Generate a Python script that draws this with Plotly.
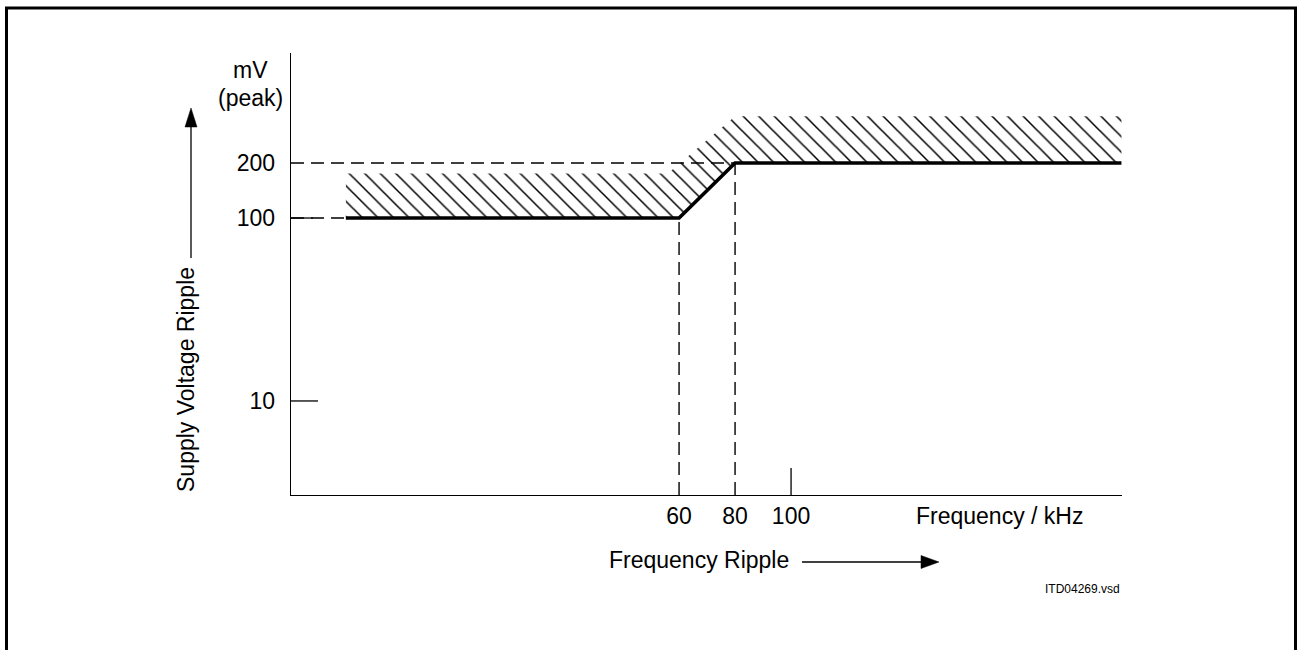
import plotly.graph_objects as go

# ---------------- data ----------------
limit_freq = [-59, 60, 80, 218]          # kHz (schematic axis positions)
limit_ripple = [100, 100, 200, 200]      # mV (peak)
band_top_freq = [-59, 56, 80, 218]       # upper edge of hatched band
band_top_ripple = [175, 175, 360, 360]
x_tick_vals = [60, 80, 100]
x_tick_text = ["60", "80", "100"]
y_tick_vals = [10, 100, 200]
y_tick_text = ["10", "100", "200"]

# ---------------- layout geometry ----------------
W, H = 1297, 650
ML, MR, MT, MB = 291, 175, 53, 155
PW, PH = W - ML - MR, H - MT - MB
x_range = [-78.6, 218.2]
y_range_log = [0.486, 2.902]
px_per_x = PW / (x_range[1] - x_range[0])
px_per_dec = PH / (y_range_log[1] - y_range_log[0])
y_min = 10 ** y_range_log[0]

FONT = "Liberation Sans, Arial, Helvetica, sans-serif"


def paper(px, py):
    return (px - ML) / PW, 1 - (py - MT) / PH


fig = go.Figure()

# hatched band
band_x = band_top_freq + limit_freq[::-1]
band_y = band_top_ripple + limit_ripple[::-1]
fig.add_trace(go.Scatter(
    x=band_x, y=band_y, mode="lines", fill="toself",
    line=dict(width=0, color="rgba(0,0,0,0)"),
    fillcolor="white",
    fillpattern=dict(shape="\\", size=11, solidity=0.14,
                     fgcolor="black", bgcolor="white", fgopacity=1),
    hoverinfo="skip", showlegend=False))

dash = "13px,7px"
# horizontal dashed guides (100 mV to start of curve, 200 mV to the 80 kHz corner)
for fx, ry in [(limit_freq[0], limit_ripple[0]), (limit_freq[2], limit_ripple[2])]:
    fig.add_trace(go.Scatter(x=[x_range[0], fx], y=[ry, ry], mode="lines",
                             line=dict(color="black", width=1.4, dash=dash),
                             hoverinfo="skip", showlegend=False))
# vertical dashed guides at the corner frequencies
for fx, ry in [(limit_freq[1], limit_ripple[1]), (limit_freq[2], limit_ripple[2])]:
    fig.add_trace(go.Scatter(x=[fx, fx], y=[y_min, ry], mode="lines",
                             line=dict(color="black", width=1.4, dash=dash),
                             hoverinfo="skip", showlegend=False))

# short tick marks
for yv, ln in [(10, 27), (100, 22)]:
    fig.add_trace(go.Scatter(x=[x_range[0], x_range[0] + ln / px_per_x], y=[yv, yv],
                             mode="lines", line=dict(color="black", width=1.3),
                             hoverinfo="skip", showlegend=False))
fig.add_trace(go.Scatter(x=[100, 100],
                         y=[y_min, 10 ** (y_range_log[0] + 27 / px_per_dec)],
                         mode="lines", line=dict(color="black", width=1.3),
                         hoverinfo="skip", showlegend=False))

# limit curve
fig.add_trace(go.Scatter(x=limit_freq, y=limit_ripple, mode="lines",
                         line=dict(color="black", width=3.6),
                         hoverinfo="skip", showlegend=False))

shapes = []
# outer frame
x0, y0 = paper(6.5, 8)
x1, y1 = paper(1295.5, 700)
shapes.append(dict(type="rect", xref="paper", yref="paper", x0=x0, y0=y1, x1=x1, y1=y0,
                   line=dict(color="black", width=3), fillcolor="rgba(0,0,0,0)"))
# vertical arrow (y label)
a0 = paper(191, 258); a1 = paper(191, 125)
shapes.append(dict(type="line", xref="paper", yref="paper", x0=a0[0], y0=a0[1], x1=a1[0], y1=a1[1],
                   line=dict(color="black", width=1.3)))
t1 = paper(191, 108); t2 = paper(185, 127); t3 = paper(197, 127)
shapes.append(dict(type="path", xref="paper", yref="paper",
                   path=f"M{t1[0]},{t1[1]} L{t2[0]},{t2[1]} L{t3[0]},{t3[1]} Z",
                   fillcolor="black", line=dict(color="black", width=0.5)))
# horizontal arrow (x label)
b0 = paper(802, 562); b1 = paper(922, 562)
shapes.append(dict(type="line", xref="paper", yref="paper", x0=b0[0], y0=b0[1], x1=b1[0], y1=b1[1],
                   line=dict(color="black", width=1.3)))
s1 = paper(939, 562); s2 = paper(921, 555.5); s3 = paper(921, 568.5)
shapes.append(dict(type="path", xref="paper", yref="paper",
                   path=f"M{s1[0]},{s1[1]} L{s2[0]},{s2[1]} L{s3[0]},{s3[1]} Z",
                   fillcolor="black", line=dict(color="black", width=0.5)))

annotations = []


def text(t, px, py, size=23, xanchor="center", angle=0):
    xp, yp = paper(px, py)
    annotations.append(dict(text=t, x=xp, y=yp, xref="paper", yref="paper",
                            xanchor=xanchor, yanchor="middle", showarrow=False,
                            textangle=angle, font=dict(family=FONT, size=size, color="black")))


text("mV", 250, 70)
text("(peak)", 250, 98)
text("Supply Voltage Ripple", 186, 380, angle=-90)
text("Frequency Ripple", 791, 560, xanchor="right")
text("Frequency / kHz", 999, 516)
text("ITD04269.vsd", 1122, 589, size=12, xanchor="right")

fig.update_layout(
    width=W, height=H,
    margin=dict(l=ML, r=MR, t=MT, b=MB, pad=0),
    paper_bgcolor="white", plot_bgcolor="white",
    shapes=shapes, annotations=annotations,
    font=dict(family=FONT, size=23, color="black"),
    xaxis=dict(range=x_range, showgrid=False, zeroline=False, showline=True,
               linecolor="black", linewidth=1.3, ticks="", tickvals=x_tick_vals,
               ticktext=x_tick_text, ticklabelstandoff=0,
               tickfont=dict(family=FONT, size=23, color="black")),
    yaxis=dict(type="log", range=y_range_log, showgrid=False, zeroline=False, showline=True,
               linecolor="black", linewidth=1.3, ticks="", tickvals=y_tick_vals,
               ticktext=y_tick_text, ticklabelstandoff=10,
               tickfont=dict(family=FONT, size=23, color="black")),
    showlegend=False,
)

fig.write_html("out.html", config={"displayModeBar": False, "staticPlot": True},
               post_script="document.body.style.margin='0';document.body.style.overflow='hidden';")
